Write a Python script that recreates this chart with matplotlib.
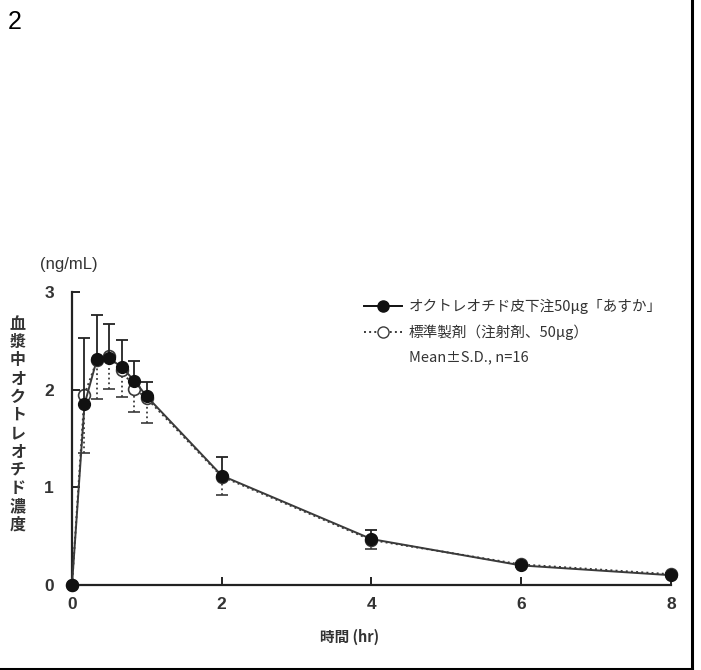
import matplotlib
matplotlib.use("Agg")
import matplotlib.pyplot as plt
from matplotlib.lines import Line2D
from matplotlib import font_manager
import numpy as np

# ---- data ----
time_hr = [0, 0.167, 0.333, 0.5, 0.667, 0.833, 1, 2, 4, 6, 8]
test_mean = [0, 1.85, 2.31, 2.32, 2.23, 2.09, 1.93, 1.12, 0.47, 0.20, 0.10]
test_sd = [0, 0.68, 0.45, 0.35, 0.28, 0.20, 0.15, 0.19, 0.09, 0.03, 0.02]
ref_mean = [0, 1.95, 2.30, 2.34, 2.20, 2.01, 1.91, 1.11, 0.46, 0.21, 0.11]
ref_sd = [0, 0.60, 0.40, 0.33, 0.28, 0.24, 0.25, 0.19, 0.09, 0.03, 0.02]
x_ticks = [0, 2, 4, 6, 8]
y_ticks = [0, 1, 2, 3]
label_test = "オクトレオチド皮下注50μg「あすか」"
label_ref = "標準製剤（注射剤、50μg）"
label_stat = "Mean±S.D., n=16"
ylabel_text = "血漿中オクトレオチド濃度"
xlabel_text = "時間 (hr)"
unit_text = "(ng/mL)"
panel_text = "2"

names = {f.name for f in font_manager.fontManager.ttflist}
narrow = 'Liberation Sans Narrow' if 'Liberation Sans Narrow' in names else 'Liberation Sans'
JP = ['Noto Sans CJK JP', 'DejaVu Sans']
NUM = [narrow, 'DejaVu Sans']
TXT = '#333333'
LC = '#3a3a3a'

fig = plt.figure(figsize=(7.01, 6.70), dpi=100)
ax = fig.add_axes([0.1027, 0.1269, 0.8545, 0.4373])

zeros = np.zeros(len(time_hr))
# reference (open) series: lower SD, dotted
eb_r = ax.errorbar(time_hr, ref_mean, yerr=[ref_sd, zeros], fmt='o', color=LC,
                   mfc='white', mec=LC, ms=8.5, mew=1.2, ls=':', lw=1.4,
                   ecolor=LC, elinewidth=1.3, capsize=4, capthick=1.3,
                   clip_on=False, zorder=3)
for c in eb_r[2]:
    c.set_linestyle(':')
for cl in eb_r[1]:
    cl.set_clip_on(False)
eb_r[1][1].set_visible(False)

# test (filled) series: upper SD, solid
eb_t = ax.errorbar(time_hr, test_mean, yerr=[zeros, test_sd], fmt='o-', color=LC,
                   mfc='#111111', mec='#111111', ms=8.5, lw=1.4,
                   ecolor='#222222', elinewidth=1.3, capsize=4, capthick=1.3,
                   clip_on=False, zorder=4)
for cl in eb_t[1]:
    cl.set_clip_on(False)
eb_t[1][0].set_visible(False)

ax.set_xlim(0, 8)
ax.set_ylim(0, 3)
ax.set_xticks(x_ticks)
ax.set_yticks(y_ticks)
for s in ['top', 'right']:
    ax.spines[s].set_visible(False)
for s in ['left', 'bottom']:
    ax.spines[s].set_linewidth(1.6)
    ax.spines[s].set_color('#222222')
ax.tick_params(direction='in', length=6, width=1.4, colors='#222222',
               labelcolor=TXT, labelsize=12.5)
ax.tick_params(axis='x', pad=9)
ax.tick_params(axis='y', pad=13)
for lab in ax.get_xticklabels() + ax.get_yticklabels():
    lab.set_family(NUM)
    lab.set_fontweight('bold')

# legend
h1 = Line2D([], [], color='#111111', ls='-', lw=1.4, marker='o', ms=8,
            mfc='#111111', mec='#111111')
h2 = Line2D([], [], color=LC, ls=':', lw=1.4, marker='o', ms=8,
            mfc='white', mec=LC)
h3 = Line2D([], [], color='none')
leg = ax.legend([h1, h2, h3], [label_test, label_ref, label_stat],
                loc='upper left', bbox_to_anchor=(0.465, 1.02), frameon=False,
                handlelength=2.6, handletextpad=0.5, labelspacing=0.68,
                prop={'family': JP, 'size': 10.5})
for t in leg.get_texts():
    t.set_color(TXT)

# texts
fig.text(69 / 701, 1 - 265 / 670, unit_text, ha='center', va='center',
         fontsize=12, color=TXT, family=NUM)
fig.text(18 / 701, 1 - 424 / 670, "\n".join(ylabel_text), ha='center',
         va='center', fontsize=11.5, fontweight='bold', color=TXT, family=JP,
         linespacing=1.17)
fig.text(350 / 701, 1 - 637 / 670, xlabel_text, ha='center', va='center',
         fontsize=10.5, fontweight='bold', color=TXT, family=JP)
fig.text(15 / 701, 1 - 22 / 670, panel_text, ha='center', va='center',
         fontsize=18, color='black', family=NUM)

# frame lines (right and bottom)
fig.add_artist(Line2D([692 / 701, 692 / 701], [0, 1], color='black', lw=2.2,
                      transform=fig.transFigure))
fig.add_artist(Line2D([0, 692 / 701], [1.2 / 670, 1.2 / 670], color='black',
                      lw=2.2, transform=fig.transFigure))

fig.savefig('out.png', dpi=100, facecolor='white')
